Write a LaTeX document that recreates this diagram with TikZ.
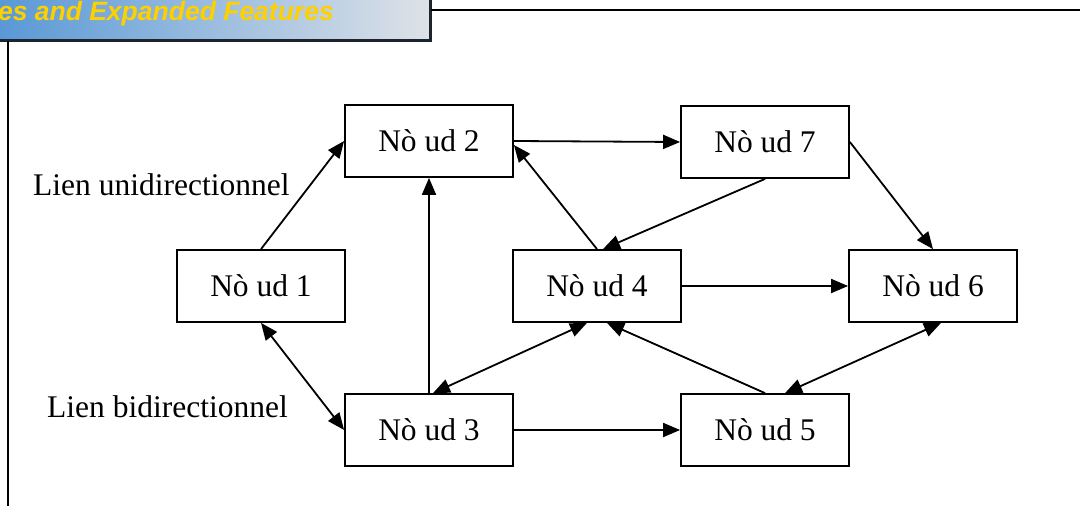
\documentclass[tikz,border=0pt]{standalone}
\usepackage{fontspec}
\setmainfont{Liberation Serif}
\newfontfamily\headfont{Liberation Sans}
\usetikzlibrary{arrows.meta}
\definecolor{headblue}{RGB}{88,152,214}
\definecolor{headgrey}{RGB}{222,226,232}
\definecolor{headgold}{RGB}{255,208,0}
\definecolor{headedge}{RGB}{30,36,46}
\tikzset{
  nodebox/.style={draw, line width=1.8pt, minimum width=168pt, minimum height=72pt,
    inner sep=0pt, font=\fontsize{31.5}{36}\selectfont},
  tip/.tip={Triangle[length=17pt,width=14pt]},
  link/.style={line width=1.8pt, -tip},
  bilink/.style={line width=1.8pt, tip-tip},
  linklabel/.style={anchor=base west, inner sep=0pt, font=\fontsize{31.5}{36}\selectfont},
  frameline/.style={line width=2pt}
}
\begin{document}
\begin{tikzpicture}[x=1pt,y=-1pt]
\useasboundingbox (0,0) rectangle (1080,506);
\clip (0,0) rectangle (1080,506);
% title banner
\shade[left color=headblue, right color=headgrey] (-4,-4) rectangle (430,40);
\draw[line width=3pt, headedge] (-6,-6) rectangle (430,40);
\node[anchor=base east, inner sep=0pt, text=headgold,
  font=\headfont\bfseries\itshape\fontsize{26.5}{30}\selectfont] (title) at (334,20) {es and Expanded Features};
% page frame lines
\coordinate (ruleA) at (431,10);
\coordinate (ruleB) at (1080,10);
\coordinate (sideA) at (8,41);
\coordinate (sideB) at (8,506);
\draw[frameline] (ruleA) -- (ruleB);
\draw[frameline] (sideA) -- (sideB);
% nodes
\node[nodebox] (n1) at (261,286) {Nò ud 1};
\node[nodebox] (n2) at (429,141) {Nò ud 2};
\node[nodebox] (n3) at (429,430) {Nò ud 3};
\node[nodebox] (n4) at (597,286) {Nò ud 4};
\node[nodebox] (n5) at (765,430) {Nò ud 5};
\node[nodebox] (n6) at (933,286) {Nò ud 6};
\node[nodebox] (n7) at (765,142) {Nò ud 7};
% labels
\node[linklabel] (uni) at (33,195) {Lien unidirectionnel};
\node[linklabel] (bi) at (47,417) {Lien bidirectionnel};
% links
\draw[link] (n1.north) -- (n2.west);
\draw[bilink] (n1.south) -- (n3.west);
\draw[link] (n3.north) -- (n2.south);
\draw[bilink] ([xshift=4pt]n3.north) -- ([xshift=-10pt]n4.south);
\draw[link] (n5.north) -- ([xshift=10pt]n4.south);
\draw[bilink] ([xshift=20pt]n5.north) -- ([xshift=8pt]n6.south);
\draw[link] (n4.north) -- ([yshift=-4pt]n2.east);
\draw[link] (n7.south) -- ([xshift=6pt]n4.north);
\draw[link] (n2.east) -- (n7.west);
\draw[link] (n7.east) -- (n6.north);
\draw[link] (n4.east) -- (n6.west);
\draw[link] (n3.east) -- (n5.west);
\end{tikzpicture}
\end{document}
